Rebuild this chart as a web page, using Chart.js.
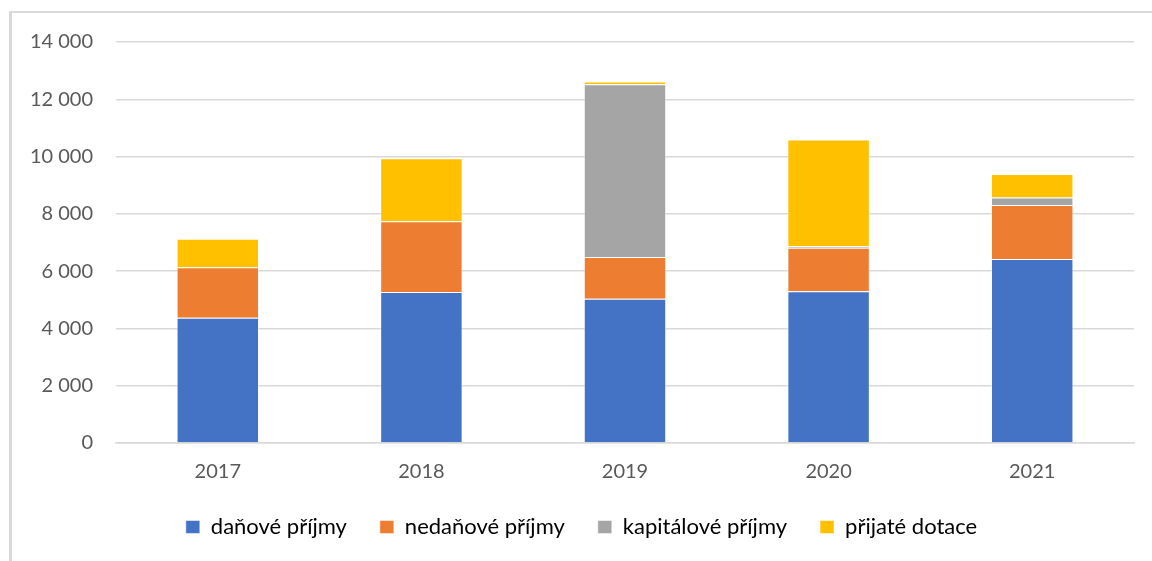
<!DOCTYPE html>
<html>
<head>
<meta charset="utf-8">
<script src="https://cdn.jsdelivr.net/npm/chart.js@4"></script>
<style>
  body { margin: 0; background: #fff; overflow: hidden; }
  #frame { position: absolute; left: 9px; top: 11px; width: 1200px; height: 600px;
           border-left: 3px solid #d9d9d9; border-top: 2px solid #d9d9d9; }
  #wrap { position: absolute; left: 12px; top: 13px; width: 1140px; height: 548px; }
</style>
</head>
<body>
<div id="frame"></div>
<div id="wrap"><canvas id="chart" width="1140" height="548"></canvas></div>
<script>
const years = ["2017", "2018", "2019", "2020", "2021"];
const danove = [4370, 5270, 5040, 5300, 6420];
const nedanove = [1770, 2475, 1450, 1515, 1885];
const kapitalove = [0, 0, 6035, 55, 270];
const dotace = [990, 2200, 95, 3730, 815];

const font = { family: "Lato", size: 20 };

function ds(label, data, color) {
  return {
    label: label,
    data: data,
    backgroundColor: color,
    borderColor: "rgba(255,255,255,0.5)",
    borderWidth: 1,
    barPercentage: 0.405,
    categoryPercentage: 1.0
  };
}

new Chart(document.getElementById("chart").getContext("2d"), {
  type: "bar",
  data: {
    labels: years,
    datasets: [
      ds("daňové příjmy", danove, "#4472c4"),
      ds("nedaňové příjmy", nedanove, "#ed7d31"),
      ds("kapitálové příjmy", kapitalove, "#a5a5a5"),
      ds("přijaté dotace", dotace, "#ffc000")
    ]
  },
  options: {
    responsive: false,
    animation: false,
    layout: { padding: { top: 29, right: 18, left: 17, bottom: 13 } },
    plugins: {
      legend: {
        position: "bottom",
        labels: { font: { family: "Lato", size: 22 }, color: "#000", boxWidth: 14, boxHeight: 13, padding: 33 }
      },
      tooltip: { enabled: false }
    },
    scales: {
      x: {
        stacked: true,
        afterFit: s => { s.height = 40; },
        grid: { display: false },
        border: { color: "#d9d9d9", width: 1.5 },
        ticks: { font: font, color: "#595959", padding: 9 }
      },
      y: {
        stacked: true,
        min: 0,
        max: 14000,
        afterFit: s => { s.width = 87; s.paddingTop = 0; s.paddingBottom = 0; },
        grid: { color: "#d9d9d9", lineWidth: 1.5, drawTicks: false },
        border: { display: false },
        ticks: {
          stepSize: 2000,
          font: font,
          color: "#595959",
          padding: 23,
          callback: v => v.toLocaleString("cs-CZ").replace(/\s/g, " ")
        }
      }
    }
  }
});
</script>
</body>
</html>
